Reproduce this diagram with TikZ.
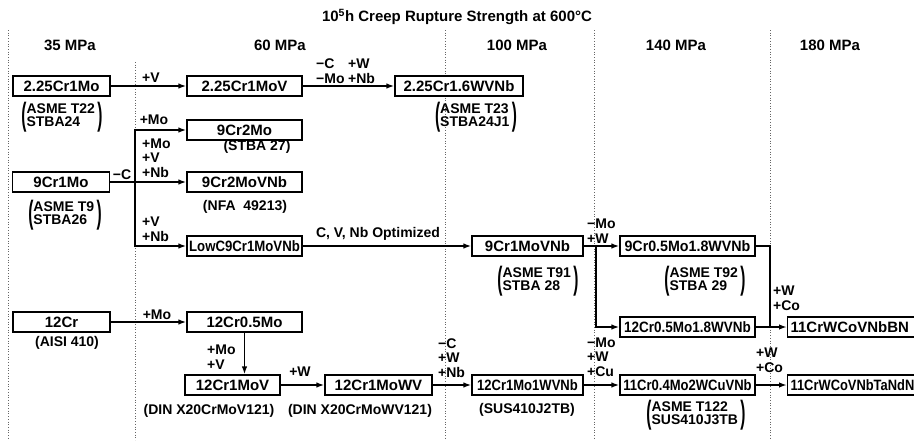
\documentclass[tikz,border=0pt]{standalone}
\usepackage{fontspec}
\setmainfont{Liberation Sans}
\usetikzlibrary{arrows.meta}
\newcommand\bigpar[1]{\vcenter{\hbox{\scalebox{1.1}[2.3]{#1}}}}
\newcommand\specnote[2]{$\bigpar{(}\begin{tabular}{@{}l@{}}#1\\#2\end{tabular}\,\bigpar{)}$}
\renewcommand\arraystretch{0.9}
\begin{document}
\begin{tikzpicture}[x=1pt,y=-1pt,
  box/.style={draw=black, line width=1.2pt, minimum height=20pt, inner sep=0pt, align=center, fill=white, font=\bfseries\fontsize{15}{15}\selectfont},
  lbl/.style={font=\bfseries\fontsize{14}{14.5}\selectfont, inner sep=0pt, align=left},
  note/.style={font=\bfseries\fontsize{14}{14}\selectfont, inner sep=0pt},
  hdr/.style={font=\bfseries\fontsize{15}{15}\selectfont, inner sep=0pt},
  conn/.style={line width=1.8pt, -{Latex[length=8pt,width=5.5pt]}},
  link/.style={line width=1.8pt},
  gridline/.style={black!60, dotted, line width=0.7pt}]
\useasboundingbox (0,0) rectangle (914,440);
\clip (0,0) rectangle (914,440);
% grid lines
\draw[gridline] (8,30) -- (8,440);
\draw[gridline] (135,62) -- (135,440);
\draw[gridline] (445,30) -- (445,440);
\draw[gridline] (594,30) -- (594,440);
\draw[gridline] (770,30) -- (770,440);
% title and headers
\node[hdr] (title) at (457,17) {10\textsuperscript{5}h Creep Rupture Strength at 600°C};
\node[hdr] (h35) at (70,45) {35 MPa};
\node[hdr] (h60) at (280,45) {60 MPa};
\node[hdr] (h100) at (517,45) {100 MPa};
\node[hdr] (h140) at (676,45) {140 MPa};
\node[hdr] (h180) at (830,45) {180 MPa};
% boxes
\node[box, minimum width=97pt] (A1) at (61.5,86) {2.25Cr1Mo};
\node[box, minimum width=115pt] (A2) at (244.5,86) {2.25Cr1MoV};
\node[box, minimum width=128pt] (A3) at (459,86) {2.25Cr1.6WVNb};
\node[box, minimum width=115pt] (B1) at (244.5,130) {9Cr2Mo};
\node[box, minimum width=97pt] (C0) at (61,182) {9Cr1Mo};
\node[box, minimum width=115pt] (C1) at (244.5,182) {9Cr2MoVNb};
\node[box, minimum width=115pt] (D1) at (244.5,246) {\scalebox{0.88}[1]{LowC9Cr1MoVNb}};
\node[box, minimum width=111pt] (D2) at (527.5,246) {9Cr1MoVNb};
\node[box, minimum width=135pt] (D3) at (687.5,246) {\scalebox{0.95}[1]{9Cr0.5Mo1.8WVNb}};
\node[box, minimum width=135pt] (E1) at (687.5,327) {\scalebox{0.9}[1]{12Cr0.5Mo1.8WVNb}};
\node[box, anchor=west, minimum width=150pt, inner xsep=3pt, text width=144pt, align=left] (E2) at (787,327) {11CrWCoVNbBN};
\node[box, minimum width=97pt] (F0) at (61.5,322) {12Cr};
\node[box, minimum width=115pt] (F1) at (244.5,322) {12Cr0.5Mo};
\node[box, minimum width=95pt] (G1) at (232.5,385) {12Cr1MoV};
\node[box, minimum width=107pt] (G2) at (378.5,385) {12Cr1MoWV};
\node[box, minimum width=111pt] (G3) at (527.5,385) {\scalebox{0.87}[1]{12Cr1Mo1WVNb}};
\node[box, minimum width=135pt] (G4) at (687.5,385) {\scalebox{0.87}[1]{11Cr0.4Mo2WCuVNb}};
\node[box, anchor=west, minimum width=150pt, inner xsep=3pt, text width=144pt, align=left] (G5) at (787,385) {\scalebox{0.86}[1]{11CrWCoVNbTaNdN}};
% notes
\node[note] (nA1) at (62,117) {\specnote{ASME T22}{STBA24}};
\node[note] (nA3) at (476,117) {\specnote{ASME T23}{STBA24J1}};
\node[note] (nB1) at (257,147) {(STBA 27)};
\node[note] (nC0) at (65,215) {\specnote{ASME T9}{STBA26}};
\node[note] (nC1) at (245,207) {(NFA\ \ 49213)};
\node[note] (nD2) at (538,281) {\specnote{ASME T91}{STBA 28}};
\node[note] (nD3) at (705,281) {\specnote{ASME T92}{STBA 29}};
\node[note] (nF0) at (67,343) {(AISI 410)};
\node[note] (nG1) at (209,411) {(DIN X20CrMoV121)};
\node[note] (nG2) at (360,411) {(DIN X20CrMoWV121)};
\node[note] (nG3) at (527,410) {(SUS410J2TB)};
\node[note] (nG4) at (696,415) {\specnote{ASME T122}{SUS410J3TB}};
% junction coordinates
\coordinate (j9) at (135,182);
\coordinate (j91) at (596,246);
\coordinate (j92) at (770,327);
% connectors
\draw[conn] (A1) -- (A2);
\draw[conn] (A2) -- (A3);
\draw[conn] (C0) -- (C1);
\draw[conn] (j9 |- D1.west) |- (B1.west);
\draw[conn] (j9 |- B1.west) |- (D1.west);
\draw[conn] (D1) -- (D2);
\draw[conn] (D2) -- (D3);
\draw[conn] (j91) |- (E1.west);
\draw[link] (D3.east) -| (j92);
\draw[conn] (E1) -- (E2);
\draw[conn] (F0) -- (F1);
\draw[conn] (F1.south) -- (F1.south |- G1.north);
\draw[conn] (G1) -- (G2);
\draw[conn] (G2) -- (G3);
\draw[conn] (G3) -- (G4);
\draw[conn] (G4) -- (G5);
% connector labels
\node[lbl] (lA12) at (151,78) {+V};
\node[lbl, anchor=west] (lA23a) at (316,71) {−C\\−Mo};
\node[lbl, anchor=west] (lA23b) at (348,71) {+W\\+Nb};
\node[lbl] (lB1) at (154,120) {+Mo};
\node[lbl, anchor=west] (lC1) at (142,158) {+Mo\\+V\\+Nb};
\node[lbl] (lC0) at (122,175) {−C};
\node[lbl, anchor=west] (lD1) at (142,229) {+V\\+Nb};
\node[lbl] (lD12) at (378,234) {C, V, Nb Optimized};
\node[lbl, anchor=west] (lD23) at (587,231) {−Mo\\+W};
\node[lbl, anchor=west] (lE2) at (773,298) {+W\\+Co};
\node[lbl] (lF01) at (157,315) {+Mo};
\node[lbl, anchor=west] (lF1G1) at (207,357) {+Mo\\+V};
\node[lbl] (lG12) at (300,372) {+W};
\node[lbl, anchor=west] (lG23) at (438,358) {−C\\+W\\+Nb};
\node[lbl, anchor=west] (lG34) at (587,357) {−Mo\\+W\\+Cu};
\node[lbl, anchor=west] (lG45) at (756,360) {+W\\+Co};
\end{tikzpicture}
\end{document}
